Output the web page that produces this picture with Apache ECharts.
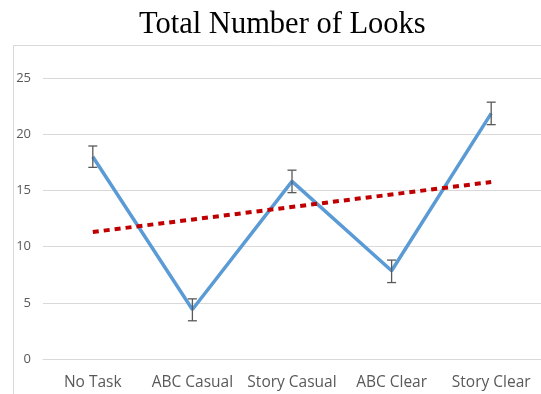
<!DOCTYPE html>
<html>
<head>
<meta charset="utf-8">
<script src="https://cdn.jsdelivr.net/npm/echarts@6/dist/echarts.min.js"></script>
<style>
html,body{margin:0;padding:0;background:#fff;}
#c{width:541px;height:394px;}
</style>
</head>
<body>
<div id="c"></div>
<script>
const categories = ['No Task', 'ABC Casual', 'Story Casual', 'ABC Clear', 'Story Clear'];
const looks = [18.0, 4.4, 15.8, 7.85, 21.85];
const errLow = [17.05, 3.4, 14.8, 6.8, 20.85];
const errHigh = [18.95, 5.35, 16.8, 8.8, 22.85];
const trend = [11.3, null, null, null, 15.75];
const yTicks = { min: 0, max: 25, interval: 5 };

const errData = categories.map((c, i) => [i, errLow[i], errHigh[i]]);

const chart = echarts.init(document.getElementById('c'));
chart.setOption({
  animation: false,
  backgroundColor: '#ffffff',
  title: {
    text: 'Total Number of Looks',
    left: 134,
    top: 4,
    textStyle: { fontFamily: 'Liberation Serif', fontSize: 30.5, fontWeight: 'normal', color: '#000' }
  },
  graphic: [{
    type: 'rect',
    shape: { x: 13.5, y: 45.5, width: 700, height: 500 },
    style: { fill: 'none', stroke: '#D9D9D9', lineWidth: 1 },
    z: -1
  }],
  grid: { left: 43, right: -2, top: 78, bottom: 35 },
  xAxis: {
    type: 'category',
    data: categories,
    boundaryGap: true,
    axisTick: { show: false },
    axisLine: { show: true, lineStyle: { color: '#D9D9D9', width: 1 } },
    axisLabel: { color: '#595959', fontFamily: 'Open Sans', fontSize: 15.5, margin: 16, interval: 0 }
  },
  yAxis: {
    type: 'value',
    min: yTicks.min, max: yTicks.max, interval: yTicks.interval,
    axisLine: { show: false },
    axisTick: { show: false },
    splitLine: { lineStyle: { color: '#D9D9D9', width: 1 } },
    axisLabel: { color: '#595959', fontFamily: 'Open Sans', fontSize: 13, margin: 12 }
  },
  series: [
    {
      type: 'line',
      data: looks,
      symbol: 'none',
      lineStyle: { color: '#5B9BD5', width: 3.5 },
      z: 2
    },
    {
      type: 'custom',
      data: errData,
      renderItem: function (params, api) {
        const x = api.value(0);
        const lo = api.coord([x, api.value(1)]);
        const hi = api.coord([x, api.value(2)]);
        const w = 4.5;
        const st = { stroke: '#595959', lineWidth: 1.3 };
        return {
          type: 'group',
          children: [
            { type: 'line', shape: { x1: lo[0], y1: lo[1], x2: hi[0], y2: hi[1] }, style: st },
            { type: 'line', shape: { x1: lo[0] - w, y1: lo[1], x2: lo[0] + w, y2: lo[1] }, style: st },
            { type: 'line', shape: { x1: hi[0] - w, y1: hi[1], x2: hi[0] + w, y2: hi[1] }, style: st }
          ]
        };
      },
      z: 3
    },
    {
      type: 'line',
      data: trend,
      connectNulls: true,
      symbol: 'none',
      lineStyle: { color: '#C00000', width: 4, type: [6, 5] },
      z: 4
    }
  ]
});
</script>
</body>
</html>
